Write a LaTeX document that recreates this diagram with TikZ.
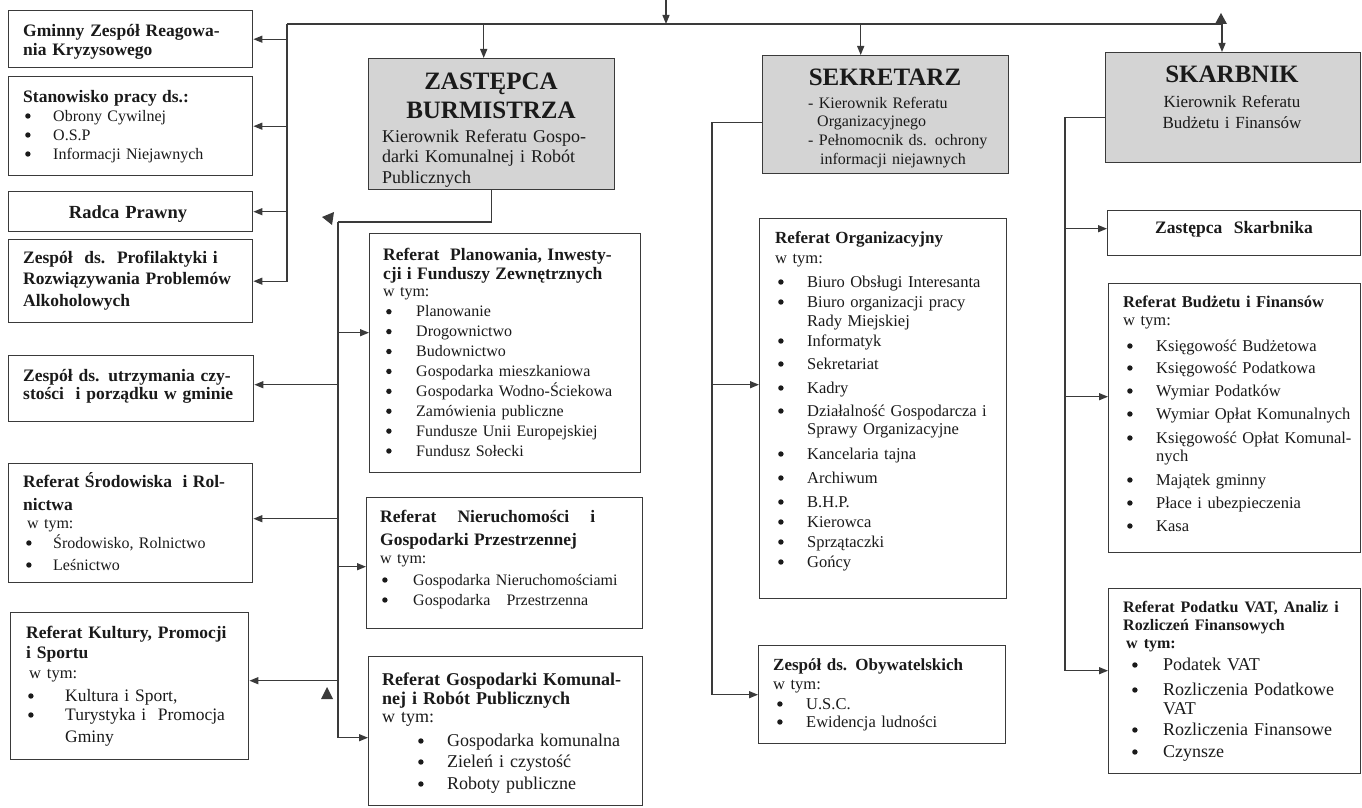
\documentclass[tikz,border=0pt]{standalone}
\usepackage{fontspec}
\setmainfont{Liberation Serif}
\usetikzlibrary{arrows.meta}
\definecolor{ln}{HTML}{3A3A3A}
\definecolor{gr}{HTML}{D4D4D4}
\definecolor{tx}{HTML}{1A1A1A}
\newcommand\bul{\tikz[baseline=0pt]\fill[tx] (2.7pt,5pt) circle[radius=2.7pt];}
\newcommand\bi[3]{\hspace*{#1}\makebox[#2][l]{\bul}#3}
\newcommand\ci[2]{\hspace*{#1}#2}
\newcommand\hb[2]{{\bfseries\fontsize{#1}{#1}\selectfont #2}}
\newcommand\bx[6][box]{\node[#1, minimum width={#4-#2}, minimum height={#5-#3}] (#6) at (#2,#3) {};}
\tikzset{
 box/.style={draw=ln, line width=1.4pt, anchor=north west, inner sep=0pt, fill=white},
 headbox/.style={box, fill=gr},
 txt/.style={anchor=base west, inner sep=0pt, text width=330pt, align=left, text=tx},
 ctxt/.style={anchor=base, inner sep=0pt, text width=250pt, align=center, text=tx},
 conn/.style={draw=ln, line width=1.3pt},
 arr/.style={conn, -{Triangle[length=9pt,width=7pt]}},
 tri/.style={fill=ln},
}
\begin{document}
\begin{tikzpicture}[x=1pt,y=-1pt]
\fill[white] (0,0) rectangle (1362,808);
\useasboundingbox (0,0) rectangle (1362,808);

% ---------- boxes ----------
\bx{8}{10}{252}{67}{gminny}
\bx{8}{76}{252}{175}{stan}
\bx{8}{191}{252}{231}{radca}
\bx{8}{239}{252}{322}{profil}
\bx{8}{355}{253}{421}{czyst}
\bx{8}{463}{252}{582}{srod}
\bx{10}{612}{248}{759}{kult}
\bx[headbox]{368}{58}{614}{189}{zast}
\bx[headbox]{762}{55}{1008}{173}{sekr}
\bx[headbox]{1105}{52}{1360}{162}{skarb}
\bx{369}{233}{640}{472}{plan}
\bx{366}{497}{642}{628}{nier}
\bx{368}{656}{642}{805}{kom}
\bx{759}{218}{1006}{598}{org}
\bx{758}{645}{1005}{743}{oby}
\bx{1107}{210}{1360}{255}{zskarb}
\bx{1108}{283}{1360}{552}{budz}
\bx{1108}{588}{1360}{773}{vat}

% ---------- texts ----------
\node[txt, font=\bfseries\fontsize{17.5}{19}\selectfont] (gminny-t) at (23,37)
 {Gminny Zespół Reagowa-\\nia Kryzysowego};

\node[txt, font=\fontsize{16}{19}\selectfont] (stan-t) at (23,102)
 {\hb{17.5}{Stanowisko pracy ds.:}\\[0pt]
  \bi{2pt}{28pt}{Obrony Cywilnej}\\
  \bi{2pt}{28pt}{O.S.P}\\
  \bi{2pt}{28pt}{Informacji Niejawnych}};

\node[ctxt, font=\bfseries\fontsize{18.5}{20}\selectfont] (radca-t) at (128,218) {Radca Prawny};

\node[txt, font=\bfseries\fontsize{17.5}{21.5}\selectfont] (profil-t) at (23,263)
 {Zespół\ \ ds.\ \ Profilaktyki i\\Rozwiązywania Problemów\\Alkoholowych};

\node[txt, font=\bfseries\fontsize{17.5}{18.5}\selectfont] (czyst-t) at (23,381)
 {Zespół ds. utrzymania czy-\\stości\ \ i porządku w gminie};

\node[txt, font=\fontsize{16}{20}\selectfont] (srod-t) at (23,487)
 {\hb{17.5}{Referat Środowiska\ \ i Rol-}\\[3pt]
  \hb{17.5}{nictwa}\\[-2pt]
  \hspace*{4pt}w tym:\\
  \bi{3pt}{27pt}{Środowisko, Rolnictwo}\\[2pt]
  \bi{3pt}{27pt}{Leśnictwo}};

\node[txt, font=\fontsize{17.5}{20}\selectfont] (kult-t) at (26,638)
 {\hb{17.5}{Referat Kultury, Promocji}\\
  \hb{17.5}{i Sportu}\\
  \hspace*{3pt}{\fontsize{16.5}{16.5}\selectfont w tym:}\\[3pt]
  \bi{2pt}{37pt}{Kultura i Sport,}\\[-1pt]
  \bi{2pt}{37pt}{Turystyka i\ \ Promocja}\\[2pt]
  \ci{39pt}{Gminy}};

\node[ctxt, font=\bfseries\fontsize{25}{29}\selectfont] (zast-h) at (491,89) {ZASTĘPCA\\BURMISTRZA};
\node[txt, font=\fontsize{18}{20.5}\selectfont] (zast-s) at (382,142)
 {Kierownik Referatu Gospo-\\darki Komunalnej i Robót\\Publicznych};

\node[ctxt, font=\bfseries\fontsize{25}{29}\selectfont] (sekr-h) at (885,85) {SEKRETARZ};
\node[txt, font=\fontsize{16}{18.7}\selectfont] (sekr-s) at (808,108)
 {- Kierownik Referatu\\\hspace*{9pt}Organizacyjnego\\- Pełnomocnik ds. ochrony\\\hspace*{12pt}informacji niejawnych};

\node[ctxt, font=\bfseries\fontsize{25}{29}\selectfont] (skarb-h) at (1232,82) {SKARBNIK};
\node[ctxt, font=\fontsize{17}{21}\selectfont] (skarb-s) at (1232,107)
 {Kierownik Referatu\\Budżetu i Finansów};

\node[txt, font=\fontsize{16}{19.9}\selectfont] (plan-t) at (383,260)
 {\hb{17.5}{Referat\ \ Planowania, Inwesty-}\\[0pt]
  \hb{17.5}{cji i Funduszy Zewnętrznych}\\[-3pt]
  w tym:\\
  \bi{3pt}{30pt}{Planowanie}\\
  \bi{3pt}{30pt}{Drogownictwo}\\
  \bi{3pt}{30pt}{Budownictwo}\\
  \bi{3pt}{30pt}{Gospodarka mieszkaniowa}\\
  \bi{3pt}{30pt}{Gospodarka Wodno-Ściekowa}\\
  \bi{3pt}{30pt}{Zamówienia publiczne}\\
  \bi{3pt}{30pt}{Fundusze Unii Europejskiej}\\
  \bi{3pt}{30pt}{Fundusz Sołecki}};

\node[txt, font=\fontsize{16}{20}\selectfont] (nier-t) at (380,522)
 {{\bfseries\fontsize{17.5}{17.5}\selectfont\makebox[215pt][l]{Referat\hfill Nieruchomości\hfill i}}\\[3pt]
  \hb{17.5}{Gospodarki Przestrzennej}\\[-2pt]
  w tym:\\[2pt]
  \bi{2pt}{31pt}{Gospodarka Nieruchomościami}\\
  \bi{2pt}{31pt}{Gospodarka\ \ \ Przestrzenna}};

\node[txt, font=\fontsize{18}{19}\selectfont] (kom-t) at (382,685)
 {\hb{18}{Referat Gospodarki Komunal-}\\
  \hb{18}{nej i Robót Publicznych}\\[-1pt]
  w tym:\\[5pt]
  \bi{36pt}{29pt}{Gospodarka komunalna}\\[2pt]
  \bi{36pt}{29pt}{Zieleń i czystość}\\[3pt]
  \bi{36pt}{29pt}{Roboty publiczne}};

\node[txt, font=\fontsize{16.5}{20}\selectfont] (org-t) at (775,243)
 {\hb{17}{Referat Organizacyjny}\\
  w tym:\\[4pt]
  \bi{3pt}{29pt}{Biuro Obsługi Interesanta}\\
  \bi{3pt}{29pt}{Biuro organizacji pracy}\\[-1pt]
  \ci{32pt}{Rady Miejskiej}\\
  \bi{3pt}{29pt}{Informatyk}\\[3pt]
  \bi{3pt}{29pt}{Sekretariat}\\[4pt]
  \bi{3pt}{29pt}{Kadry}\\[3pt]
  \bi{3pt}{29pt}{Działalność Gospodarcza i}\\[-2pt]
  \ci{32pt}{Sprawy Organizacyjne}\\[5pt]
  \bi{3pt}{29pt}{Kancelaria tajna}\\[4pt]
  \bi{3pt}{29pt}{Archiwum}\\[4pt]
  \bi{3pt}{29pt}{B.H.P.}\\
  \bi{3pt}{29pt}{Kierowca}\\
  \bi{3pt}{29pt}{Sprzątaczki}\\
  \bi{3pt}{29pt}{Gońcy}};

\node[txt, font=\fontsize{16.5}{19.5}\selectfont] (oby-t) at (773,670)
 {\hb{17}{Zespół ds. Obywatelskich}\\
  w tym:\\
  \bi{4pt}{29pt}{U.S.C.}\\[-1.5pt]
  \bi{4pt}{29pt}{Ewidencja ludności}};

\node[ctxt, font=\bfseries\fontsize{17.5}{20}\selectfont] (zskarb-t) at (1234,233) {Zastępca\ \ Skarbnika};

\node[txt, font=\fontsize{16.5}{22}\selectfont] (budz-t) at (1123,307)
 {\hb{16.5}{Referat Budżetu i Finansów}\\[-4pt]
  w tym:\\[4pt]
  \bi{4pt}{29pt}{Księgowość Budżetowa}\\
  \bi{4pt}{29pt}{Księgowość Podatkowa}\\[1pt]
  \bi{4pt}{29pt}{Wymiar Podatków}\\[1pt]
  \bi{4pt}{29pt}{Wymiar Opłat Komunalnych}\\[2pt]
  \bi{4pt}{29pt}{Księgowość Opłat Komunal-}\\[-4pt]
  \ci{33pt}{nych}\\[2pt]
  \bi{4pt}{29pt}{Majątek gminny}\\[1pt]
  \bi{4pt}{29pt}{Płace i ubezpieczenia}\\[1pt]
  \bi{4pt}{29pt}{Kasa}};

\node[txt, font=\fontsize{18}{21}\selectfont] (vat-t) at (1123,612)
 {\hb{16}{Referat Podatku VAT, Analiz i}\\[-3pt]
  \hb{16}{Rozliczeń Finansowych}\\[-3pt]
  \hspace*{3pt}\hb{16}{w tym:}\\[1pt]
  \bi{9pt}{31pt}{Podatek VAT}\\[4pt]
  \bi{9pt}{31pt}{Rozliczenia Podatkowe}\\[-2pt]
  \ci{40pt}{VAT}\\
  \bi{9pt}{31pt}{Rozliczenia Finansowe}\\[1pt]
  \bi{9pt}{31pt}{Czynsze}};

% ---------- connectors ----------
\coordinate (src) at (666,0);
\coordinate (tl) at (287,24);
\coordinate (tr) at (1222,24);
\draw[arr] (src) -- (src |- tl);
\draw[conn] (tl) -- (tr);
\draw[arr] (tr) -- (tr |- skarb.north);
\draw[arr] ([xshift=-8pt]zast.north |- tl) -- ([xshift=-8pt]zast.north);
\draw[arr] ([xshift=-25pt]sekr.north |- tl) -- ([xshift=-25pt]sekr.north);

% left column
\draw[arr] (tl) |- (profil.east);
\draw[arr] (tl |- gminny.east) -- (gminny.east);
\draw[arr] (tl |- stan.east) -- (stan.east);
\draw[arr] (tl |- radca.east) -- (radca.east);

% zastepca subtree
\coordinate (zj) at (338,222);
\coordinate (pa) at ([yshift=20.5pt]plan.west);
\coordinate (na) at ([yshift=-3.5pt]nier.west);
\coordinate (ka) at ([yshift=-6.5pt]kom.west);
\coordinate (ca) at ([yshift=4pt]czyst.east);
\coordinate (sa) at ([yshift=4.5pt]srod.east);
\coordinate (ua) at ([yshift=5.5pt]kult.east);
\draw[conn] (zast.south) |- (zj);
\draw[arr] (zj) |- (ka);
\draw[arr] (zj |- pa) -- (pa);
\draw[arr] (zj |- na) -- (na);
\draw[arr] (zj |- ca) -- (ca);
\draw[arr] (zj |- sa) -- (sa);
\draw[arr] (zj |- ua) -- (ua);

% sekretarz subtree
\coordinate (sj) at (712,0);
\coordinate (oa) at ([yshift=24pt]org.west);
\draw[arr] ([yshift=-8pt]sekr.west) -| (sj |- oby.west) -- (oby.west);
\draw[arr] (sj |- oa) -- (oa);

% skarbnik subtree
\coordinate (kj) at (1065,0);
\coordinate (za) at ([yshift=4.5pt]zskarb.west);
\coordinate (ba) at ([yshift=21.5pt]budz.west);
\coordinate (va) at ([yshift=10.5pt]vat.west);
\draw[arr] ([yshift=-10pt]skarb.west) -| (kj |- va) -- (va);
\draw[arr] (kj |- za) -- (za);
\draw[arr] (kj |- ba) -- (ba);

% stray arrow tips
\fill[tri] (322,217) -- (334,212) -- (332,225) -- cycle;
\fill[tri] (327,687) -- (321,699) -- (333,699) -- cycle;
\fill[tri] (1221,13) -- (1215,24) -- (1227,24) -- cycle;
\end{tikzpicture}
\end{document}
